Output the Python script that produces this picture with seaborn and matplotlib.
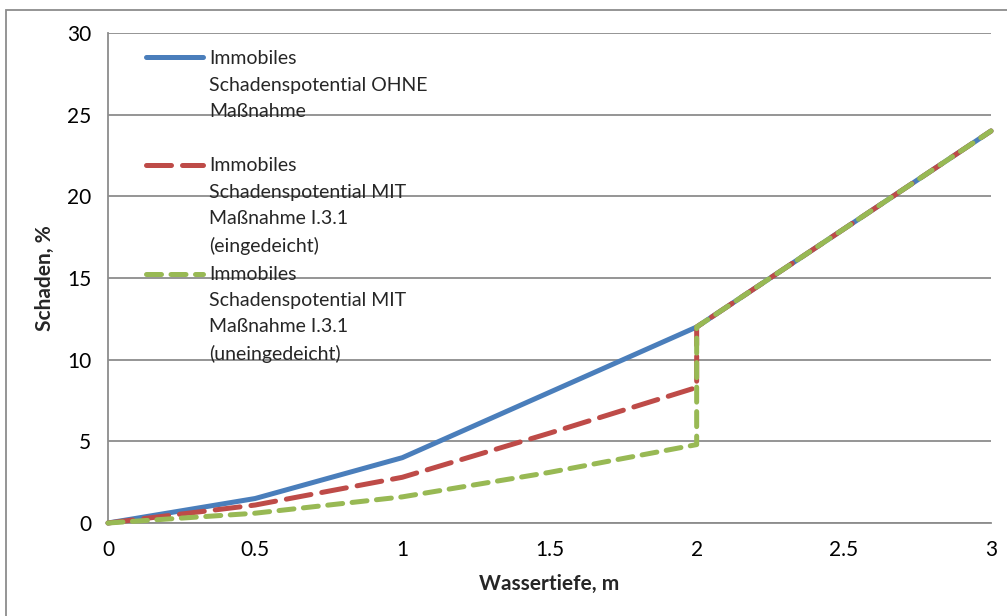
import numpy as np
import pandas as pd
import matplotlib
matplotlib.use("Agg")
import matplotlib.pyplot as plt
import seaborn as sns
from matplotlib.patches import Rectangle
from matplotlib.legend_handler import HandlerLine2D

# Water depth (m) and damage (%) for each scenario
depth_ohne = [0.0, 0.5, 1.0, 1.5, 2.0, 3.0]
damage_ohne = [0.0, 1.5, 4.0, 8.0, 12.0, 24.0]

depth_eingedeicht = [0.0, 0.5, 1.0, 1.5, 2.0, 2.0, 3.0]
damage_eingedeicht = [0.0, 1.1, 2.8, 5.5, 8.3, 12.0, 24.0]

depth_uneingedeicht = [0.0, 0.5, 1.0, 1.5, 2.0, 2.0, 3.0]
damage_uneingedeicht = [0.0, 0.6, 1.6, 3.1, 4.8, 12.0, 24.0]

labels = [
    "Immobiles\nSchadenspotential OHNE\nMaßnahme\n",
    "Immobiles\nSchadenspotential MIT\nMaßnahme I.3.1\n(eingedeicht)",
    "Immobiles\nSchadenspotential MIT\nMaßnahme I.3.1\n(uneingedeicht)",
]
colors = ["#4A7EBB", "#BE4B48", "#98B954"]
dashes = [(None, None), (5.0, 2.2), (3.0, 1.9)]

frames = []
for lab, xs, ys in zip(labels,
                       [depth_ohne, depth_eingedeicht, depth_uneingedeicht],
                       [damage_ohne, damage_eingedeicht, damage_uneingedeicht]):
    frames.append(pd.DataFrame({"Wassertiefe": xs, "Schaden": ys, "Szenario": lab}))
df = pd.concat(frames, ignore_index=True)

sns.set_theme(style="white")
plt.rcParams["font.family"] = ["Lato", "DejaVu Sans"]

FS = 14
W, H = 1007, 616
fig = plt.figure(figsize=(W / 100, H / 100), dpi=100)
ax = fig.add_axes([108 / W, 1 - 523 / H, (991 - 108) / W, (523 - 33) / H])

for i, lab in enumerate(labels):
    sub = df[df["Szenario"] == lab]
    sns.lineplot(data=sub, x="Wassertiefe", y="Schaden", ax=ax, sort=False,
                 estimator=None, color=colors[i], linewidth=3.6, label=lab,
                 zorder=3 + i)

for line, d in zip(ax.get_lines(), dashes):
    line.set_solid_capstyle("round")
    line.set_dash_capstyle("round")
    line.set_clip_on(False)
    if d[0] is not None:
        line.set_dashes(d)

ax.set_xlim(0, 3)
ax.set_ylim(0, 30)
ax.set_xticks([0, 0.5, 1, 1.5, 2, 2.5, 3])
ax.set_xticklabels(["0", "0.5", "1", "1.5", "2", "2.5", "3"])
ax.set_yticks(range(0, 31, 5))
ax.yaxis.grid(True, color="#8C8C8C", linewidth=1.3)
ax.xaxis.grid(False)
ax.set_axisbelow(True)

for s in ["top", "right"]:
    ax.spines[s].set_visible(False)
for s in ["left", "bottom"]:
    ax.spines[s].set_color("#8C8C8C")
    ax.spines[s].set_linewidth(1.3)

ax.tick_params(axis="both", which="major", direction="out", length=6,
               width=1.3, color="#8C8C8C", labelsize=15, labelcolor="black")
ax.tick_params(axis="x", pad=6)
ax.tick_params(axis="y", pad=6)
ax.set_xlabel("Wassertiefe, m", fontsize=15, fontweight="bold", labelpad=10)
ax.set_ylabel("Schaden, %", fontsize=15, fontweight="bold", labelpad=9)


class FirstLineHandler(HandlerLine2D):
    """Place the legend line at the height of the label's first text row."""

    def __init__(self, shift, **kw):
        super().__init__(**kw)
        self.shift = shift

    def create_artists(self, legend, orig_handle, xdescent, ydescent,
                       width, height, fontsize, trans):
        artists = super().create_artists(legend, orig_handle, xdescent, ydescent,
                                         width, height, fontsize, trans)
        for a in artists:
            a.set_ydata(np.asarray(a.get_ydata()) + self.shift)
        return artists


handles = ax.get_lines()[:3]
shift = 29.8
leg = ax.legend(handles, labels, loc="upper left", bbox_to_anchor=(0.023, 1.0),
                frameon=False, fontsize=FS, handlelength=2.95, handletextpad=0.3,
                labelspacing=0.6, borderaxespad=0.5,
                handler_map={h: FirstLineHandler(shift) for h in handles})
for t in leg.get_texts():
    t.set_linespacing(1.65)

fig.patches.append(Rectangle((6 / W, -0.1), 1.2, 1.1 - 10 / H,
                             transform=fig.transFigure, fill=False,
                             edgecolor="#8C8C8C", linewidth=1.3))

fig.savefig("out.png", dpi=100, facecolor="white")
